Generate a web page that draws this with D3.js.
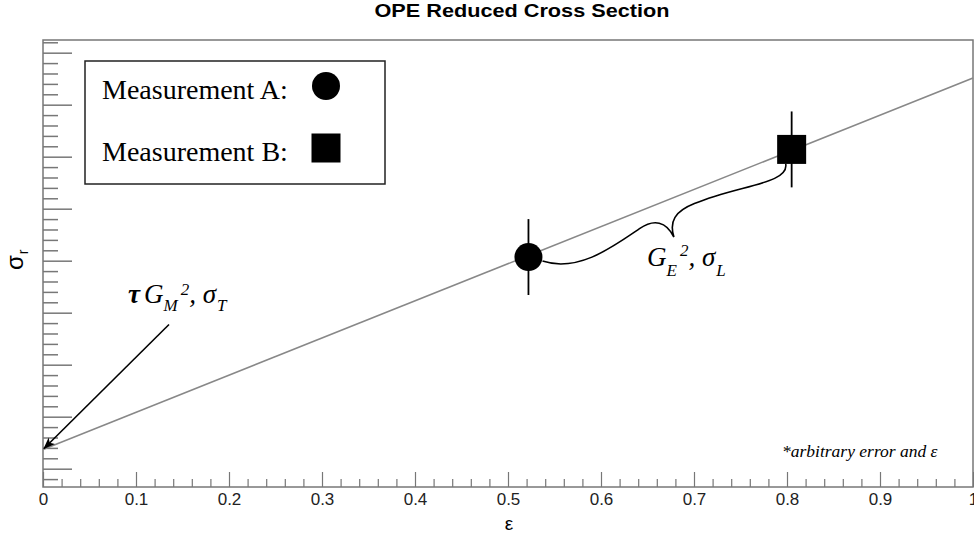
<!DOCTYPE html>
<html>
<head>
<meta charset="utf-8">
<script src="https://cdn.jsdelivr.net/npm/d3@7"></script>
<style>
  body { margin: 0; background: #fff; }
  text { font-family: "Liberation Sans", Arial, sans-serif; }
  .serif { font-family: "Liberation Serif", "Times New Roman", serif; }
  .xlab text { font-size: 17px; fill: #222; }
</style>
</head>
<body>
<div id="chart"></div>
<script>
(function() {
  var width = 974,
      height = 538;

  // data
  var xTicks = [0, 0.1, 0.2, 0.3, 0.4, 0.5, 0.6, 0.7, 0.8, 0.9, 1];
  var xTickLabels = ["0", "0.1", "0.2", "0.3", "0.4", "0.5", "0.6", "0.7", "0.8", "0.9", "1"];
  var yTicks = [1, 2, 3, 4, 5, 6, 7, 8, 9];
  var fitLine = [{x: 0, y: 1.369}, {x: 1, y: 8.513}];
  var measurementA = [{x: 0.522, y: 5.07, err: 0.73}];
  var measurementB = [{x: 0.805, y: 7.14, err: 0.73}];
  var legendLabels = ["Measurement A:", "Measurement B:"];

  var margin = {left: 43, right: 1, top: 40, bottom: 51};
  var plotW = width - margin.left - margin.right,
      plotH = height - margin.top - margin.bottom;

  var svg = d3.select("#chart")
    .append("svg")
    .attr("width", width)
    .attr("height", height);

  var x = d3.scaleLinear().domain([0, 1]).range([0, plotW]);
  var y = d3.scaleLinear().domain([0.648, 9.244]).range([plotH, 0]);

  var g = svg.append("g")
    .attr("transform", "translate(" + margin.left + "," + margin.top + ")");

  var axisColor = "#777";

  // minor ticks
  var xMinor = d3.range(0, 1.0001, 0.02).filter(function(v) {
    return Math.abs(v * 10 - Math.round(v * 10)) > 1e-6;
  });
  var yMinor = d3.range(0.8, 9.244, 0.2).filter(function(v) {
    return Math.abs(v - Math.round(v)) > 1e-6;
  });

  g.append("g")
    .attr("transform", "translate(0," + plotH + ")")
    .call(d3.axisBottom(x).tickValues(xMinor).tickSize(-8).tickFormat(""))
    .call(function(s) { s.select(".domain").remove(); s.selectAll("line").attr("stroke", axisColor).attr("stroke-width", 1.2); });

  g.append("g")
    .attr("class", "xlab")
    .attr("transform", "translate(0," + plotH + ")")
    .call(d3.axisBottom(x).tickValues(xTicks).tickSize(-15).tickPadding(6)
      .tickFormat(function(d, i) { return xTickLabels[i]; }))
    .attr("font-size", 17)
    .attr("font-family", null)
    .call(function(s) {
      s.select(".domain").remove();
      s.selectAll("line").attr("stroke", axisColor).attr("stroke-width", 1.2);
    });

  g.append("g")
    .call(d3.axisLeft(y).tickValues(yMinor).tickSize(-15).tickFormat(""))
    .call(function(s) { s.select(".domain").remove(); s.selectAll("line").attr("stroke", axisColor).attr("stroke-width", 1.5); });

  g.append("g")
    .call(d3.axisLeft(y).tickValues(yTicks).tickSize(-29).tickFormat(""))
    .call(function(s) { s.select(".domain").remove(); s.selectAll("line").attr("stroke", axisColor).attr("stroke-width", 1.5); });

  // frame
  g.append("rect")
    .attr("x", 0).attr("y", 0)
    .attr("width", plotW).attr("height", plotH)
    .attr("fill", "none")
    .attr("stroke", axisColor)
    .attr("stroke-width", 1.5);

  // fit line
  var line = d3.line()
    .x(function(d) { return x(d.x); })
    .y(function(d) { return y(d.y); });

  g.append("path")
    .datum(fitLine)
    .attr("d", line)
    .attr("fill", "none")
    .attr("stroke", "#888")
    .attr("stroke-width", 1.6);

  // error bars
  var allPts = measurementA.concat(measurementB);
  g.selectAll(".err")
    .data(allPts)
    .enter()
    .append("line")
    .attr("class", "err")
    .attr("x1", function(d) { return x(d.x); })
    .attr("x2", function(d) { return x(d.x); })
    .attr("y1", function(d) { return y(d.y - d.err); })
    .attr("y2", function(d) { return y(d.y + d.err); })
    .attr("stroke", "#000")
    .attr("stroke-width", 1.8);

  var r = 14, sq = 29;

  g.selectAll(".ptA")
    .data(measurementA)
    .enter()
    .append("circle")
    .attr("class", "ptA")
    .attr("cx", function(d) { return x(d.x); })
    .attr("cy", function(d) { return y(d.y); })
    .attr("r", r)
    .attr("fill", "#000");

  g.selectAll(".ptB")
    .data(measurementB)
    .enter()
    .append("rect")
    .attr("class", "ptB")
    .attr("x", function(d) { return x(d.x) - sq / 2; })
    .attr("y", function(d) { return y(d.y) - sq / 2; })
    .attr("width", sq)
    .attr("height", sq)
    .attr("fill", "#000");

  // curly brace between A and B (local frame: u along chord, v perpendicular)
  var a = measurementA[0], b = measurementB[0];
  var p1 = [x(a.x) + r, y(a.y) + 4],
      p2 = [x(b.x) - 6, y(b.y) + sq / 2];
  var dx = p2[0] - p1[0], dy = p2[1] - p1[1];
  var L = Math.sqrt(dx * dx + dy * dy);
  var ux = dx / L, uy = dy / L;
  var vx = -uy, vy = ux; // perpendicular, points below the chord
  function loc(u, v) {
    var uu = u * L;
    return (p1[0] + uu * ux + v * vx).toFixed(1) + "," + (p1[1] + uu * uy + v * vy).toFixed(1);
  }
  var brace = "M" + loc(0, 0) +
    "C" + loc(0.11, 24) + " " + loc(0.27, 13) + " " + loc(0.39, 6) +
    "C" + loc(0.455, 2) + " " + loc(0.495, 9) + " " + loc(0.5, 26.5) +
    "C" + loc(0.505, 10) + " " + loc(0.54, 3) + " " + loc(0.62, 3) +
    "C" + loc(0.8, 2) + " " + loc(0.985, 20) + " " + loc(1, 0);
  g.append("path")
    .attr("d", brace)
    .attr("fill", "none")
    .attr("stroke", "#000")
    .attr("stroke-width", 1.6);

  // arrow to intercept
  svg.append("defs").append("marker")
    .attr("id", "arrowhead")
    .attr("viewBox", "0 0 12 10")
    .attr("refX", 11).attr("refY", 5)
    .attr("markerWidth", 12).attr("markerHeight", 10)
    .attr("markerUnits", "userSpaceOnUse")
    .attr("orient", "auto")
    .append("path")
    .attr("d", "M0,0.5 L12,5 L0,9.5 L3,5 Z")
    .attr("fill", "#000");

  var tip = fitLine[0];
  g.append("line")
    .attr("x1", x(tip.x) + 126).attr("y1", y(tip.y) - 125)
    .attr("x2", x(tip.x) + 1).attr("y2", y(tip.y) - 1)
    .attr("stroke", "#000")
    .attr("stroke-width", 1.6)
    .attr("marker-end", "url(#arrowhead)");

  // annotations
  var ann1 = svg.append("text")
    .attr("class", "serif")
    .attr("x", 128).attr("y", 303)
    .attr("font-size", 27)
    .attr("font-style", "italic");
  ann1.append("tspan").attr("font-weight", "bold").text("τ");
  ann1.append("tspan").attr("dx", 4).text("G");
  ann1.append("tspan").attr("font-size", 17).attr("dy", 8).text("M");
  ann1.append("tspan").attr("font-size", 17).attr("dy", -16).attr("dx", 3).text("2");
  ann1.append("tspan").attr("dy", 8).text(", σ");
  ann1.append("tspan").attr("font-size", 17).attr("dy", 8).attr("dx", 1).text("T");

  var ann2 = svg.append("text")
    .attr("class", "serif")
    .attr("x", 647).attr("y", 266)
    .attr("font-size", 27)
    .attr("font-style", "italic");
  ann2.append("tspan").text("G");
  ann2.append("tspan").attr("font-size", 17).attr("dy", 10).text("E");
  ann2.append("tspan").attr("font-size", 17).attr("dy", -20).attr("dx", 3).text("2");
  ann2.append("tspan").attr("dy", 10).text(", σ");
  ann2.append("tspan").attr("font-size", 17).attr("dy", 10).attr("dx", 1).text("L");

  svg.append("text")
    .attr("class", "serif")
    .attr("x", 782).attr("y", 457)
    .attr("font-size", 17.5)
    .attr("font-style", "italic")
    .text("*arbitrary error and ε");

  // legend
  var legend = svg.append("g");
  legend.append("rect")
    .attr("x", 85).attr("y", 61)
    .attr("width", 300).attr("height", 123)
    .attr("fill", "#fff")
    .attr("stroke", "#222")
    .attr("stroke-width", 1.5);
  legend.selectAll(".lg")
    .data(legendLabels)
    .enter()
    .append("text")
    .attr("class", "serif")
    .attr("x", 102)
    .attr("y", function(d, i) { return 99 + i * 62; })
    .attr("font-size", 28)
    .attr("fill", "#000")
    .text(function(d) { return d; });
  legend.append("circle")
    .attr("cx", 326).attr("cy", 86).attr("r", r).attr("fill", "#000");
  legend.append("rect")
    .attr("x", 326 - sq / 2).attr("y", 148 - sq / 2)
    .attr("width", sq).attr("height", sq).attr("fill", "#000");

  // titles
  svg.append("text")
    .attr("x", 522).attr("y", 17)
    .attr("text-anchor", "middle")
    .attr("font-size", 18)
    .attr("font-weight", "bold")
    .attr("textLength", 295)
    .attr("lengthAdjust", "spacingAndGlyphs")
    .text("OPE Reduced Cross Section");

  svg.append("text")
    .attr("x", 509).attr("y", 530)
    .attr("text-anchor", "middle")
    .attr("font-size", 19)
    .text("ε");

  var yl = svg.append("text")
    .attr("transform", "translate(23,270) rotate(-90)")
    .attr("font-size", 24);
  yl.append("tspan").text("σ");
  yl.append("tspan").attr("font-size", 14).attr("dy", 5).attr("dx", 1).text("r");
})();
</script>
</body>
</html>
